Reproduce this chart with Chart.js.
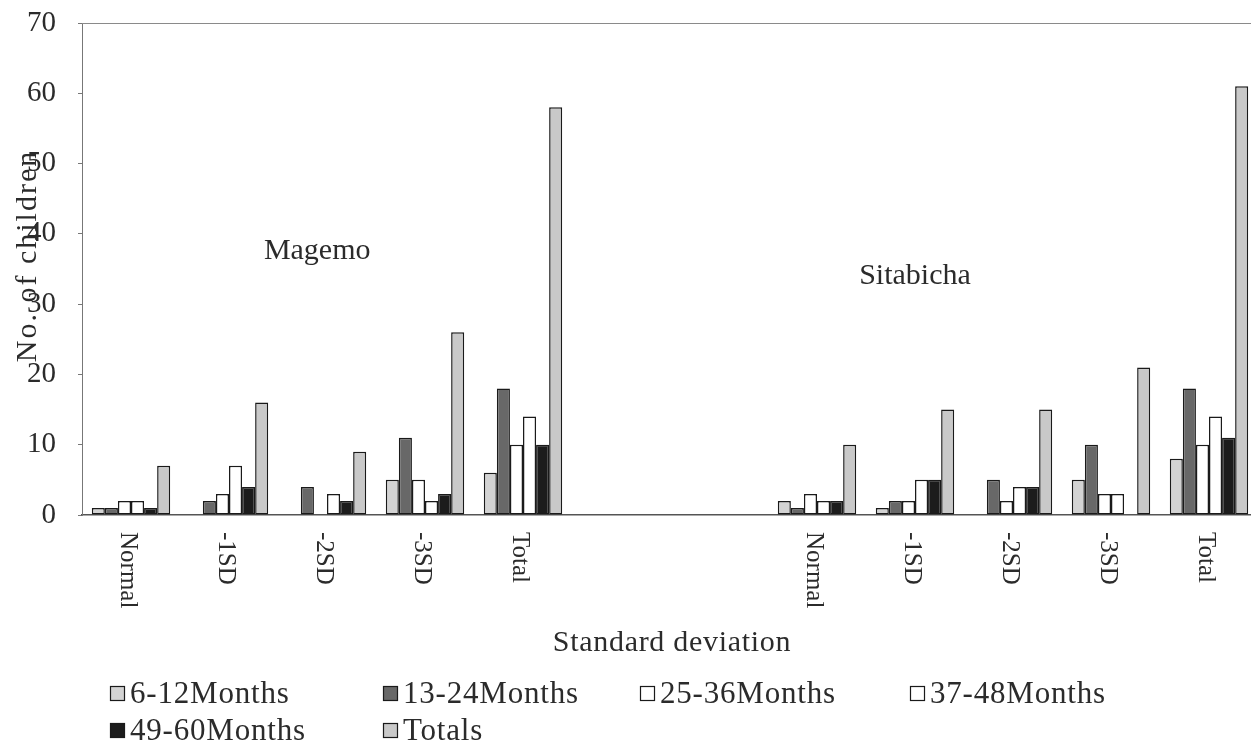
<!DOCTYPE html>
<html>
<head>
<meta charset="utf-8">
<script src="https://cdn.jsdelivr.net/npm/chart.js@4/dist/chart.umd.min.js"></script>
<style>
  html, body { margin: 0; padding: 0; background: #fff; overflow: hidden; }
</style>
</head>
<body>
<canvas id="myChart" width="1258" height="746"></canvas>
<script>
// data
const categories = ['Normal', '-1SD', '-2SD', '-3SD', 'Total', '', '', 'Normal', '-1SD', '-2SD', '-3SD', 'Total'];
const seriesNames = ['6-12Months', '13-24Months', '25-36Months', '37-48Months', '49-60Months', 'Totals'];
const months6to12  = [1, 0, 0, 5, 6, null, null, 2, 1, 0, 5, 8];
const months13to24 = [1, 2, 4, 11, 18, null, null, 1, 2, 5, 10, 18];
const months25to36 = [2, 3, 0, 5, 10, null, null, 3, 2, 2, 3, 10];
const months37to48 = [2, 7, 3, 2, 14, null, null, 2, 5, 4, 3, 14];
const months49to60 = [1, 4, 2, 3, 10, null, null, 2, 5, 4, 0, 11];
const totals       = [7, 16, 9, 26, 58, null, null, 10, 15, 15, 21, 61];
const regions = ['Magemo', 'Sitabicha'];
const regionAt = [[1.9, 37.5], [8, 34]]; // [category index, y value]

const fills = ['#d3d3d3', '#686868', '#ffffff', '#ffffff', '#1c1c1c', '#c9c9c9'];
const seriesData = [months6to12, months13to24, months25to36, months37to48, months49to60, totals];
const FONT = '"Liberation Serif", "Times New Roman", serif';
const TXT = '#2b2b2b';

// draws the bits Chart.js can't place the same way
const extras = {
  id: 'extras',
  afterDraw(chart) {
    const ctx = chart.ctx;
    const a = chart.chartArea;
    const xs = chart.scales.x, ys = chart.scales.y;
    ctx.save();

    // top frame line
    ctx.strokeStyle = '#8a8a8a';
    ctx.lineWidth = 1;
    ctx.beginPath();
    ctx.moveTo(a.left, a.top + 0.5);
    ctx.lineTo(a.right, a.top + 0.5);
    ctx.stroke();

    ctx.fillStyle = TXT;

    // category labels, turned clockwise
    ctx.font = '25px ' + FONT;
    ctx.textAlign = 'left';
    ctx.textBaseline = 'middle';
    categories.forEach((c, i) => {
      if (!c) return;
      ctx.save();
      ctx.translate(xs.getPixelForValue(i) - 3, a.bottom + 17);
      ctx.rotate(Math.PI / 2);
      ctx.fillText(c, 0, 0);
      ctx.restore();
    });

    // axis titles
    ctx.textAlign = 'center';
    ctx.font = '30px ' + FONT;
    ctx.letterSpacing = '0.7px';
    ctx.fillText('Standard deviation', 672, 643);
    ctx.letterSpacing = '2px';
    ctx.save();
    ctx.translate(28, 256);
    ctx.rotate(-Math.PI / 2);
    ctx.fillText('No. of children', 0, 0);
    ctx.restore();
    ctx.letterSpacing = '0px';

    // region names
    ctx.font = '30px ' + FONT;
    regions.forEach((r, i) => {
      ctx.fillText(r, xs.getPixelForValue(regionAt[i][0]), ys.getPixelForValue(regionAt[i][1]));
    });

    // legend
    const cols = [110, 383, 640, 910];
    const rows = [694, 731];
    ctx.font = '31px ' + FONT;
    ctx.letterSpacing = '0.8px';
    ctx.textAlign = 'left';
    chart.data.datasets.forEach((ds, i) => {
      const x = cols[i % 4], y = rows[Math.floor(i / 4)];
      ctx.fillStyle = ds.backgroundColor;
      ctx.fillRect(x, y - 8, 15, 15);
      ctx.strokeStyle = '#1a1a1a';
      ctx.lineWidth = 1.2;
      ctx.strokeRect(x + 0.5, y - 7.5, 14, 14);
      ctx.fillStyle = TXT;
      ctx.fillText(ds.label, x + 20, y + 1);
    });

    ctx.restore();
  }
};

const config = {
  type: 'bar',
  data: {
    labels: categories,
    datasets: seriesNames.map((n, i) => ({
      label: n,
      data: seriesData[i],
      backgroundColor: fills[i],
      borderColor: '#1a1a1a',
      borderWidth: 1.5,
      borderSkipped: false,
      barPercentage: 1,
      categoryPercentage: 0.8
    }))
  },
  options: {
    responsive: false,
    animation: false,
    layout: { padding: { top: 23, right: 0, left: 0, bottom: 0 } },
    plugins: {
      legend: { display: false },
      tooltip: { enabled: false }
    },
    scales: {
      x: {
        grid: { display: false },
        border: { display: true, color: '#555', width: 1.5 },
        ticks: { display: false },
        afterFit: s => { s.height = 231; }
      },
      y: {
        min: 0,
        max: 70,
        ticks: {
          stepSize: 10,
          padding: 22,
          color: TXT,
          font: { family: FONT, size: 29 }
        },
        grid: { drawOnChartArea: false, drawTicks: true, tickLength: 4, color: '#777' },
        border: { display: true, color: '#777', width: 1 },
        afterFit: s => { s.width = 82; s.paddingTop = 0; s.paddingBottom = 0; }
      }
    }
  },
  plugins: [extras]
};

const myChart = new Chart(document.getElementById('myChart'), config);
</script>
</body>
</html>
